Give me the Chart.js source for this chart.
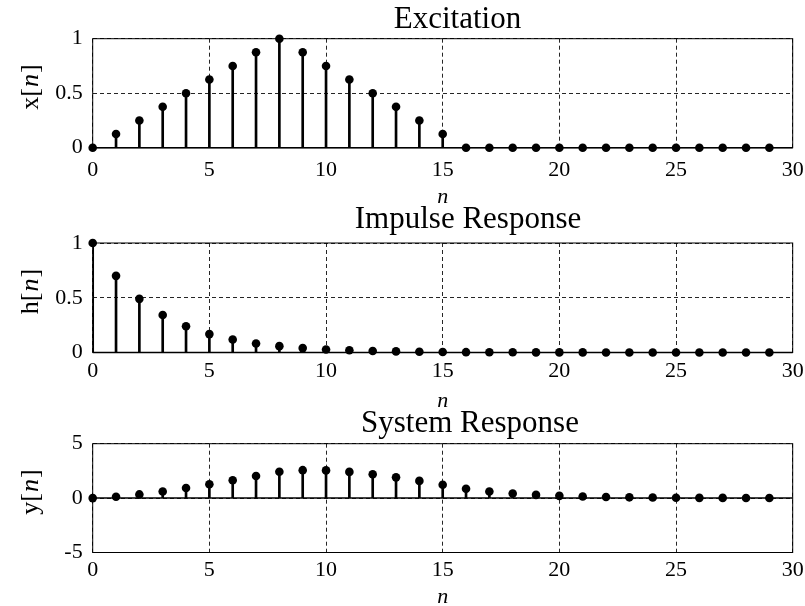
<!DOCTYPE html>
<html>
<head>
<meta charset="utf-8">
<script src="https://cdn.jsdelivr.net/npm/chart.js@4.4.1/dist/chart.umd.min.js"></script>
<style>
html, body { margin: 0; padding: 0; background: #fff; overflow: hidden; width: 805px; height: 606px; }
canvas { position: absolute; left: 0; }
</style>
</head>
<body>
<canvas id="c1" width="805" height="215" style="top:0px"></canvas>
<canvas id="c2" width="805" height="215" style="top:200px"></canvas>
<canvas id="c3" width="805" height="206" style="top:400px"></canvas>
<script>
// sample index
const n = [0,1,2,3,4,5,6,7,8,9,10,11,12,13,14,15,16,17,18,19,20,21,22,23,24,25,26,27,28,29];

// x[n], h[n], y[n]
const excitation = [0,0.125,0.25,0.375,0.5,0.625,0.75,0.875,1,0.875,0.75,0.625,0.5,0.375,0.25,0.125,
  0,0,0,0,0,0,0,0,0,0,0,0,0,0];
const impulse = [1,0.7,0.49,0.343,0.24,0.168,0.118,0.082,0.058,0.04,0.028,0.02,0.014,0.01,0.007,0.005,
  0.003,0.002,0.002,0.001,0.001,0.001,0,0,0,0,0,0,0,0];
const response = [0,0.125,0.338,0.611,0.928,1.275,1.642,2.025,2.417,2.567,2.547,2.408,2.185,1.905,1.583,1.233,
  0.863,0.604,0.423,0.296,0.207,0.145,0.102,0.071,0.05,0.035,0.024,0.017,0.012,0.008];

const xTicks = [0,5,10,15,20,25,30];
const unitTicks = [0,0.5,1];
const responseTicks = [-5,0,5];

const SERIF = '"Liberation Serif", "Times New Roman", serif';
Chart.defaults.font.family = SERIF;
Chart.defaults.color = '#000';

const LEFT = 92.7, RIGHT = 792.7;

const panels = [
  { id: 'c1', top: 0, height: 215, plotTop: 38.7, plotBottom: 147.7, tickPad: 9,
    title: 'Excitation', titleX: 457.5, titleY: 28.3, sym: 'x', labelY: 88, nY: 203,
    values: excitation, yTicks: unitTicks },
  { id: 'c2', top: 200, height: 215, plotTop: 243, plotBottom: 352.5, tickPad: 6,
    title: 'Impulse Response', titleX: 468, titleY: 228.3, sym: 'h', labelY: 292.5, nY: 407,
    values: impulse, yTicks: unitTicks },
  { id: 'c3', top: 400, height: 206, plotTop: 443.7, plotBottom: 552.5, tickPad: 4.5,
    title: 'System Response', titleX: 470, titleY: 431.7, sym: 'y', labelY: 493, nY: 603,
    values: response, yTicks: responseTicks }
];

function makeDecor(p) {
  return {
    id: 'decor',
    beforeDatasetsDraw(chart) {
      const { ctx, chartArea: a, scales } = chart;
      const y0 = scales.y.getPixelForValue(0);
      ctx.save();
      ctx.strokeStyle = '#000';
      ctx.lineWidth = 1;
      ctx.strokeRect(a.left, a.top, a.right - a.left, a.bottom - a.top);
      // stem baseline
      ctx.lineWidth = 1.5;
      ctx.beginPath();
      ctx.moveTo(a.left, y0);
      ctx.lineTo(a.right, y0);
      ctx.stroke();
      ctx.restore();
    },
    afterDraw(chart) {
      const { ctx, chartArea: a } = chart;
      ctx.save();
      ctx.fillStyle = '#000';
      ctx.textBaseline = 'alphabetic';
      // title
      ctx.font = '31px ' + SERIF;
      ctx.textAlign = 'center';
      ctx.fillText(p.title, p.titleX, p.titleY - p.top);
      // x label
      ctx.font = 'italic 22px ' + SERIF;
      ctx.fillText('n', (a.left + a.right) / 2, p.nY - p.top);
      // y label  sym[n]
      const parts = [[p.sym + '[', '26px ' + SERIF], ['n', 'italic 26px ' + SERIF], [']', '26px ' + SERIF]];
      let total = 0;
      const w = parts.map(([t, f]) => { ctx.font = f; const m = ctx.measureText(t).width; total += m; return m; });
      ctx.translate(38, p.labelY - p.top);
      ctx.rotate(-Math.PI / 2);
      ctx.textAlign = 'left';
      let x = -total / 2;
      parts.forEach(([t, f], i) => { ctx.font = f; ctx.fillText(t, x, 0); x += w[i] + 1; });
      ctx.restore();
    }
  };
}

panels.forEach(p => {
  const pts = n.map((k, i) => ({ x: k, y: p.values[i] }));
  const yMin = p.yTicks[0], yMax = p.yTicks[p.yTicks.length - 1];
  new Chart(document.getElementById(p.id), {
    type: 'bar',
    data: {
      datasets: [
        { type: 'bar', data: pts, backgroundColor: '#000', borderWidth: 0, barThickness: 2, order: 2 },
        { type: 'line', data: pts, showLine: false, pointRadius: 4.3, pointBackgroundColor: '#000',
          pointBorderWidth: 0, clip: false, order: 1 }
      ]
    },
    options: {
      responsive: false,
      animation: false,
      devicePixelRatio: 1,
      layout: { padding: { top: p.plotTop - p.top, right: 805 - RIGHT, left: 0, bottom: 0 } },
      plugins: { legend: { display: false }, tooltip: { enabled: false } },
      scales: {
        x: {
          type: 'linear', min: 0, max: 30, offset: false,
          afterBuildTicks: s => { s.ticks = xTicks.map(v => ({ value: v })); },
          afterFit: s => {
            s.height = p.top + p.height - p.plotBottom;
            s.paddingLeft = 0;
            s.paddingRight = 0;
          },
          grid: { offset: false, color: 'rgba(0,0,0,0.85)', lineWidth: 1, drawTicks: false, tickLength: 0 },
          border: { display: false, dash: [4, 3] },
          ticks: { padding: p.tickPad, font: { size: 22 }, maxRotation: 0, autoSkip: false,
            callback: v => String(v) }
        },
        y: {
          type: 'linear', min: yMin, max: yMax,
          afterBuildTicks: s => { s.ticks = p.yTicks.map(v => ({ value: v })); },
          afterFit: s => { s.width = LEFT; },
          grid: { color: 'rgba(0,0,0,0.85)', lineWidth: 1, drawTicks: false, tickLength: 0 },
          border: { display: false, dash: [4, 3] },
          ticks: { padding: 10, font: { size: 22 }, autoSkip: false, callback: v => String(v) }
        }
      }
    },
    plugins: [makeDecor(p)]
  });
});
</script>
</body>
</html>
